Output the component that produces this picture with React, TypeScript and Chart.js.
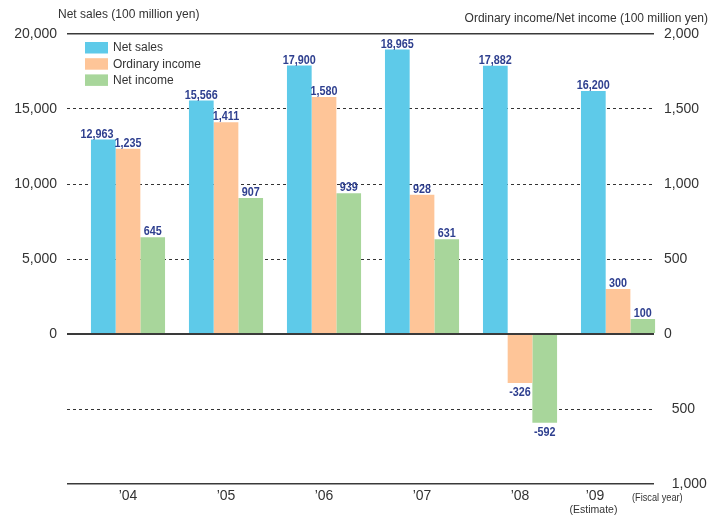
import { useEffect, useRef } from 'react';
import { Chart, registerables } from 'chart.js';

Chart.register(...registerables);

const categories = ['\u201904', '\u201905', '\u201906', '\u201907', '\u201908', '\u201909'];
const netSales = [12963, 15566, 17900, 18965, 17882, 16200];
const ordinaryIncome = [1235, 1411, 1580, 928, -326, 300];
const netIncome = [645, 907, 939, 631, -592, 100];
const seriesNames = ['Net sales', 'Ordinary income', 'Net income'];
const salesTicks = [-10000, -5000, 0, 5000, 10000, 15000, 20000];
const incomeTicks = [-1000, -500, 0, 500, 1000, 1500, 2000];
const leftTitle = 'Net sales (100 million yen)';
const rightTitle = 'Ordinary income/Net income (100 million yen)';
const estimateNote = '(Estimate)';
const fiscalYearNote = '(Fiscal year)';

const FONT = "'Liberation Sans', Arial, Helvetica, sans-serif";
const TEXT = '#333333';
const LABEL = '#2e3f8f';
const COLORS = ['#5ecae9', '#fec598', '#a8d69b'];
const CLEAR = 'rgba(0,0,0,0)';
const NARROW_SCALE = 0.8;

const fmt = (v: number) => v.toLocaleString('en-US');

function narrowText(ctx: CanvasRenderingContext2D, text: string, x: number, y: number) {
  ctx.save();
  ctx.translate(x, y);
  ctx.scale(NARROW_SCALE, 1);
  ctx.fillText(text, 0, 0);
  ctx.restore();
}

const decorPlugin = {
  id: 'decor',
  afterDraw(chart: any) {
    const ctx = chart.ctx as CanvasRenderingContext2D;
    const area = chart.chartArea;
    const xs = chart.scales.x;
    ctx.save();

    // axis titles
    ctx.fillStyle = TEXT;
    ctx.font = `12px ${FONT}`;
    ctx.textBaseline = 'middle';
    ctx.textAlign = 'left';
    ctx.fillText(leftTitle, 58, 15);
    ctx.textAlign = 'right';
    ctx.fillText(rightTitle, 708, 19);

    // legend
    seriesNames.forEach((name, i) => {
      const top = area.top + 8 + i * 16.2;
      ctx.fillStyle = COLORS[i];
      ctx.fillRect(area.left + 18, top, 23, 11.5);
      ctx.fillStyle = TEXT;
      ctx.textAlign = 'left';
      ctx.fillText(name, area.left + 46, top + 6);
    });

    // last category label (shifted), estimate and fiscal year notes
    const last = categories.length - 1;
    const px = xs.getPixelForValue(last);
    const labelY = xs.top + 4 + 8.4;
    ctx.font = `14px ${FONT}`;
    ctx.textAlign = 'center';
    ctx.fillText(categories[last], px - 23, labelY);
    ctx.font = `10.5px ${FONT}`;
    ctx.fillText(estimateNote, px - 24.5, labelY + 13.5);
    ctx.font = `11.5px ${FONT}`;
    ctx.textAlign = 'left';
    narrowText(ctx, fiscalYearNote, px + 14, labelY + 1.5);

    // data labels
    ctx.font = `bold 13.5px ${FONT}`;
    ctx.fillStyle = LABEL;
    ctx.textAlign = 'center';
    ctx.textBaseline = 'alphabetic';
    const n = categories.length;
    for (let j = 0; j < n; j++) {
      const items: { text: string; x: number; y: number; w: number }[] = [];
      chart.data.datasets.forEach((ds: any, i: number) => {
        const el = chart.getDatasetMeta(i).data[j];
        const v = ds.data[j].y as number;
        const text = fmt(v);
        const w = ctx.measureText(text).width * NARROW_SCALE;
        const y = v >= 0 ? el.y - 2 : el.y + 13.5;
        items.push({ text, x: el.x, y, w });
      });
      for (let k = items.length - 2; k >= 0; k--) {
        const a = items[k];
        const b = items[k + 1];
        if (Math.abs(a.y - b.y) < 12) {
          const overlap = a.x + a.w / 2 - (b.x - b.w / 2) + 1;
          if (overlap > 0) a.x -= overlap;
        }
      }
      items.forEach((it) => narrowText(ctx, it.text, it.x, it.y));
    }
    ctx.restore();
  },
};

export default function App() {
  const ref = useRef<HTMLCanvasElement>(null);
  useEffect(() => {
    document.body.style.margin = '0';
    const toPoints = (arr: number[]) => arr.map((v, i) => ({ x: i, y: v }));
    const chart = new Chart(ref.current as HTMLCanvasElement, {
      type: 'bar',
      data: {
        datasets: [
          { label: seriesNames[0], data: toPoints(netSales), backgroundColor: COLORS[0], yAxisID: 'y' },
          { label: seriesNames[1], data: toPoints(ordinaryIncome), backgroundColor: COLORS[1], yAxisID: 'y1' },
          { label: seriesNames[2], data: toPoints(netIncome), backgroundColor: COLORS[2], yAxisID: 'y1' },
        ] as any,
      },
      options: {
        responsive: false,
        animation: false,
        layout: { padding: { top: 34, left: 0, right: 0, bottom: 0 } },
        datasets: { bar: { categoryPercentage: 0.756, barPercentage: 1, clip: false } as any },
        plugins: { legend: { display: false }, tooltip: { enabled: false } },
        scales: {
          x: {
            type: 'linear',
            offset: false,
            min: -0.6224,
            max: 5.367,
            afterBuildTicks: (s: any) => {
              s.ticks = categories.map((_, i) => ({ value: i }));
            },
            afterFit: (s: any) => {
              s.height = 32;
            },
            ticks: {
              autoSkip: false,
              maxRotation: 0,
              padding: 4,
              color: TEXT,
              font: { family: FONT, size: 14 },
              callback: (_v: any, i: number) => (i < categories.length - 1 ? categories[i] : ''),
            },
            grid: { display: false, drawTicks: false, offset: false },
            border: { display: false },
          },
          y: {
            type: 'linear',
            position: 'left',
            min: -10000,
            max: 20000,
            afterBuildTicks: (s: any) => {
              s.ticks = salesTicks.map((v) => ({ value: v }));
            },
            afterFit: (s: any) => {
              s.width = 67;
            },
            ticks: {
              padding: 10,
              color: TEXT,
              font: { family: FONT, size: 14 },
              callback: (v: any) => (Number(v) >= 0 ? fmt(Number(v)) : ''),
            },
            grid: {
              drawTicks: false,
              lineWidth: 1,
              color: (c: any) =>
                c.tick && [0, 20000, -10000].includes(c.tick.value) ? CLEAR : '#333333',
            },
            border: { display: false, dash: [3, 3] },
          },
          y1: {
            type: 'linear',
            position: 'right',
            min: -1000,
            max: 2000,
            afterBuildTicks: (s: any) => {
              s.ticks = incomeTicks.map((v) => ({ value: v }));
            },
            afterFit: (s: any) => {
              s.width = 67;
            },
            ticks: {
              padding: 10,
              color: TEXT,
              font: { family: FONT, size: 14 },
              callback: (v: any) => {
                const n = Number(v);
                return n < 0 ? '  ' + fmt(Math.abs(n)) : fmt(n);
              },
            },
            grid: {
              drawTicks: false,
              z: 1,
              lineWidth: (c: any) => (c.tick && c.tick.value === 0 ? 2 : 1.5),
              color: (c: any) =>
                c.tick && [0, 2000, -1000].includes(c.tick.value) ? '#3a3a3a' : CLEAR,
            },
            border: { display: false },
          },
        },
      } as any,
      plugins: [decorPlugin],
    });
    return () => chart.destroy();
  }, []);
  return (
    <div style={{ width: 721, height: 516 }}>
      <canvas ref={ref} width={721} height={516} style={{ display: 'block' }} />
    </div>
  );
}
